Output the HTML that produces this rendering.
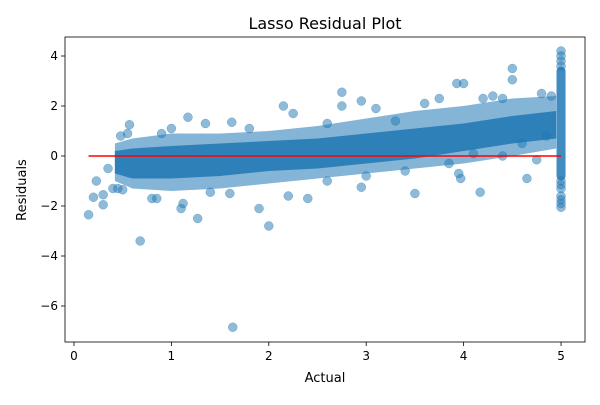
<!DOCTYPE html>
<html><head><meta charset="utf-8">
<style>
body{margin:0;background:#fff;font-family:"Liberation Sans","DejaVu Sans",sans-serif;}
svg text{font-family:"DejaVu Sans","Liberation Sans",sans-serif;fill:#000;}
</style></head>
<body>
<svg id="chart" width="600" height="400" xmlns="http://www.w3.org/2000/svg">
<rect width="600" height="400" fill="#fff"/>
<text x="325" y="29" font-size="16" text-anchor="middle">Lasso Residual Plot</text>
<text x="325" y="382" font-size="13" text-anchor="middle">Actual</text>
<text x="26" y="190" font-size="13" text-anchor="middle" transform="rotate(-90 26 190)">Residuals</text>
<g id="plot"></g>
</svg>
<script>
const xTicks=[0,1,2,3,4,5];
const yTicks=[-6,-4,-2,0,2,4];
// dense band envelope
const bandX=[0.42,0.6,1.0,1.5,2.0,2.5,3.0,3.5,4.0,4.5,4.95];
const bandOuterLo=[-1.0,-1.3,-1.4,-1.3,-1.1,-0.9,-0.7,-0.5,-0.3,0.0,0.3];
const bandOuterHi=[0.5,0.7,0.9,0.9,1.0,1.2,1.5,1.8,2.0,2.3,2.4];
const bandInnerLo=[-0.7,-0.9,-0.9,-0.8,-0.6,-0.5,-0.3,-0.1,0.2,0.5,0.7];
const bandInnerHi=[0.2,0.3,0.4,0.5,0.6,0.7,0.9,1.1,1.3,1.6,1.8];
const capX=5.0, capLo=-0.8, capHi=3.4;
const actual=[0.15,0.2,0.23,0.3,0.3,0.35,0.4,0.45,0.48,0.55,0.57,0.5,0.68,0.8,0.85,1.1,1.12,1.17,1.27,1.35,1.63,1.62,1.9,2.0,2.15,2.25,2.4,2.2,2.75,2.75,2.95,2.95,3.1,3.5,3.6,3.95,3.97,4.0,3.93,4.17,4.2,4.4,4.5,4.5,4.65,4.75,4.8,4.9,3.75,4.3,3.3,2.6,1.0,0.9,1.8,4.85,4.6,4.4,4.1,3.85,3.4,1.6,1.4,2.6,3.0,5,5,5,5,5,5,5,5,5,5,5];
const resid=[-2.35,-1.65,-1.0,-1.95,-1.55,-0.5,-1.3,-1.3,0.8,0.9,1.25,-1.35,-3.4,-1.7,-1.7,-2.1,-1.9,1.55,-2.5,1.3,-6.85,1.35,-2.1,-2.8,2.0,1.7,-1.7,-1.6,2.55,2.0,2.2,-1.25,1.9,-1.5,2.1,-0.7,-0.9,2.9,2.9,-1.45,2.3,2.3,3.5,3.05,-0.9,-0.15,2.5,2.4,2.3,2.4,1.4,1.3,1.1,0.9,1.1,0.8,0.5,0.0,0.1,-0.3,-0.6,-1.5,-1.45,-1.0,-0.8,-2.05,-1.9,-1.75,-1.6,-1.3,-1.0,3.6,3.8,4.0,4.2,-1.15];
const X0=65,X1=585,Y0=37,Y1=342;
const xmin=-0.092,xmax=5.246,ymin=-7.44,ymax=4.76;
function sx(v){return X0+(v-xmin)/(xmax-xmin)*(X1-X0);}
function sy(v){return Y1-(v-ymin)/(ymax-ymin)*(Y1-Y0);}
const NS="http://www.w3.org/2000/svg";
const g=document.getElementById('plot');
function mk(t,a){const e=document.createElementNS(NS,t);for(const k in a)e.setAttribute(k,a[k]);g.appendChild(e);return e;}
function band(lo,hi,op,name){
  let pts=[];
  for(let i=0;i<bandX.length;i++)pts.push(sx(bandX[i])+','+sy(hi[i]));
  for(let i=bandX.length-1;i>=0;i--)pts.push(sx(bandX[i])+','+sy(lo[i]));
  const p=mk('polygon',{points:pts.join(' '),fill:'#1f77b4','fill-opacity':op,stroke:'none'});
  
  
}
band(bandOuterLo,bandOuterHi,0.55,'residual-band-outer');
band(bandInnerLo,bandInnerHi,0.85,'residual-band-core');
const cap=mk('rect',{x:sx(capX)-4.5,y:sy(capHi)-4.5,width:9,height:sy(capLo)-sy(capHi)+9,rx:4.5,fill:'#1f77b4','fill-opacity':0.85});


for(let i=0;i<actual.length;i++){
  const c=mk('circle',{cx:sx(actual[i]),cy:sy(resid[i]),r:4.5,fill:'#1f77b4','fill-opacity':0.5,stroke:'#1f77b4','stroke-opacity':0.5,'stroke-width':0.5});
  
  
}
const zl=mk('line',{x1:sx(0.15),x2:sx(5.0),y1:sy(0),y2:sy(0),stroke:'#ff0000','stroke-width':1.5});


const fr=mk('rect',{x:X0,y:Y0,width:X1-X0,height:Y1-Y0,fill:'none',stroke:'#000','stroke-width':0.8});


xTicks.forEach(v=>{
  const l=mk('line',{x1:sx(v),x2:sx(v),y1:Y1,y2:Y1+4,stroke:'#000','stroke-width':0.8});
  
  
  const t=mk('text',{x:sx(v),y:Y1+18,'font-size':12,'text-anchor':'middle'});
  t.textContent=String(v);
  
  
});
yTicks.forEach(v=>{
  const l=mk('line',{x1:X0-4,x2:X0,y1:sy(v),y2:sy(v),stroke:'#000','stroke-width':0.8});
  
  
  const t=mk('text',{x:X0-7,y:sy(v)+4,'font-size':12,'text-anchor':'end'});
  t.textContent=(v<0?'\u2212'+(-v):String(v));
  
  
});
</script>
</body></html>
